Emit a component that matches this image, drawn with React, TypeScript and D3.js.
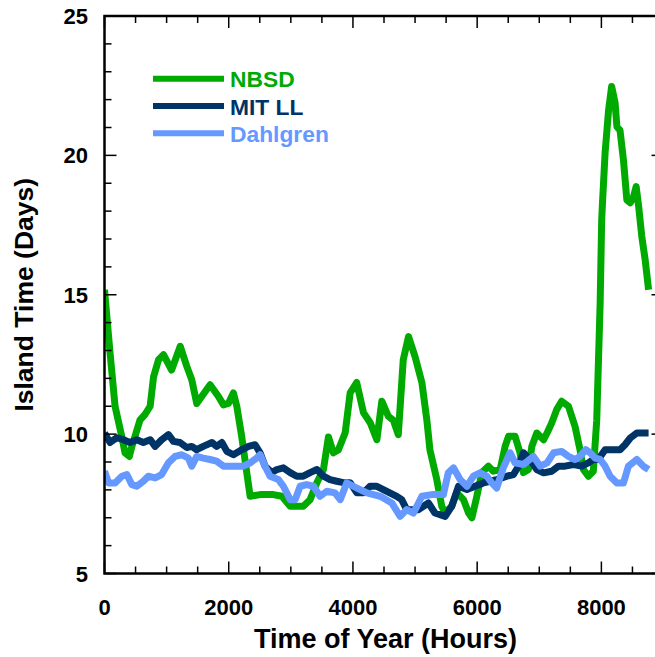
import React from "react";
import * as d3 from "d3";

const nbsdHours = [0, 90, 170, 280, 330, 400, 440, 570, 650, 735, 790, 870, 950, 1080, 1220, 1325, 1405, 1485, 1565, 1700, 1835, 1915, 1995, 2075, 2130, 2210, 2290, 2345, 2505, 2720, 2855, 2990, 3200, 3310, 3420, 3525, 3605, 3685, 3765, 3875, 3955, 4060, 4170, 4280, 4385, 4465, 4570, 4650, 4730, 4810, 4895, 5000, 5110, 5190, 5240, 5350, 5430, 5485, 5590, 5670, 5780, 5860, 5915, 5995, 6075, 6180, 6260, 6370, 6450, 6505, 6610, 6690, 6745, 6825, 6880, 6960, 7070, 7125, 7200, 7280, 7360, 7470, 7575, 7655, 7710, 7790, 7870, 7925, 7980, 8005, 8020, 8060, 8115, 8165, 8220, 8250, 8300, 8355, 8410, 8465, 8515, 8560, 8600, 8650, 8705, 8760];
const nbsdDays = [15.18, 12.9, 11.0, 9.9, 9.33, 9.2, 9.55, 10.5, 10.7, 11.0, 12.06, 12.67, 12.85, 12.3, 13.15, 12.43, 11.95, 11.1, 11.35, 11.77, 11.35, 11.05, 11.1, 11.48, 11.0, 9.9, 8.62, 7.77, 7.83, 7.83, 7.77, 7.41, 7.41, 7.65, 8.26, 8.73, 9.9, 9.33, 9.43, 10.05, 11.48, 11.85, 10.77, 10.4, 9.8, 11.18, 10.64, 10.5, 9.98, 12.67, 13.5, 12.78, 11.85, 10.5, 9.43, 8.37, 7.41, 7.18, 7.41, 7.9, 7.65, 7.18, 7.0, 7.77, 8.62, 8.85, 8.67, 8.73, 9.56, 9.92, 9.92, 9.33, 8.62, 8.73, 9.56, 10.04, 9.8, 10.04, 10.4, 10.88, 11.18, 11.0, 10.28, 9.45, 8.73, 8.49, 8.67, 10.5, 14.7, 17.7, 18.4, 20.1, 21.6, 22.47, 21.9, 21.03, 20.9, 19.84, 18.4, 18.3, 18.5, 18.88, 18.17, 17.1, 16.25, 15.18];

const mitHours = [0, 90, 200, 305, 410, 520, 625, 735, 815, 920, 1030, 1110, 1215, 1325, 1405, 1485, 1590, 1730, 1805, 1890, 1970, 2075, 2210, 2320, 2425, 2505, 2585, 2695, 2775, 2880, 2990, 3095, 3200, 3310, 3420, 3525, 3630, 3740, 3845, 3955, 4060, 4170, 4275, 4385, 4545, 4705, 4785, 4865, 5055, 5215, 5320, 5485, 5590, 5700, 5835, 5965, 6100, 6210, 6315, 6480, 6585, 6665, 6745, 6850, 6960, 7070, 7200, 7310, 7415, 7550, 7685, 7790, 7870, 7950, 8060, 8195, 8300, 8380, 8465, 8570, 8675, 8760];
const mitDays = [10.04, 9.7, 9.87, 9.8, 9.7, 9.8, 9.7, 9.8, 9.56, 9.8, 9.98, 9.74, 9.7, 9.52, 9.56, 9.44, 9.56, 9.7, 9.56, 9.7, 9.38, 9.26, 9.44, 9.56, 9.62, 9.33, 8.85, 8.62, 8.73, 8.79, 8.62, 8.49, 8.49, 8.62, 8.73, 8.49, 8.37, 8.31, 8.26, 8.26, 7.9, 7.9, 8.13, 8.13, 7.95, 7.77, 7.65, 7.29, 7.29, 7.53, 7.17, 7.05, 7.41, 8.13, 8.01, 8.13, 8.25, 8.31, 8.37, 8.49, 8.55, 8.85, 9.33, 9.09, 8.73, 8.61, 8.67, 8.85, 8.85, 8.91, 8.85, 8.97, 9.09, 9.09, 9.44, 9.44, 9.44, 9.62, 9.86, 10.04, 10.04, 10.04];

const dahlHours = [0, 65, 170, 280, 360, 440, 520, 625, 705, 815, 920, 1030, 1135, 1245, 1350, 1405, 1485, 1590, 1700, 1805, 1915, 2020, 2130, 2235, 2345, 2450, 2505, 2585, 2665, 2800, 2880, 2990, 3070, 3150, 3255, 3365, 3470, 3580, 3710, 3795, 3900, 4005, 4115, 4225, 4440, 4625, 4760, 4865, 4975, 5110, 5270, 5455, 5535, 5620, 5725, 5835, 5940, 6045, 6155, 6235, 6315, 6420, 6530, 6610, 6745, 6905, 7015, 7125, 7230, 7360, 7470, 7575, 7655, 7750, 7820, 7900, 7980, 8060, 8140, 8250, 8355, 8435, 8570, 8675, 8760];
const dahlDays = [8.67, 8.25, 8.25, 8.49, 8.55, 8.19, 8.13, 8.31, 8.49, 8.43, 8.55, 8.97, 9.2, 9.26, 9.14, 8.85, 9.2, 9.14, 9.09, 9.03, 8.85, 8.85, 8.85, 8.85, 8.97, 9.14, 9.26, 8.85, 8.49, 8.37, 8.13, 7.65, 7.65, 8.13, 8.19, 8.13, 7.77, 7.95, 7.89, 7.65, 8.25, 8.13, 8.01, 7.89, 7.77, 7.53, 7.05, 7.29, 7.17, 7.77, 7.83, 7.83, 8.61, 8.79, 8.37, 8.13, 8.49, 8.61, 8.49, 8.25, 8.07, 8.79, 9.33, 8.97, 8.91, 9.2, 8.85, 8.97, 9.33, 9.38, 9.2, 9.09, 9.2, 9.44, 9.33, 9.14, 9.09, 8.85, 8.49, 8.25, 8.25, 8.85, 9.09, 8.85, 8.73];

const seriesNames = ["NBSD", "MIT LL", "Dahlgren"];
const seriesColors = ["#00aa00", "#003366", "#6699ff"];
const xTickValues = [0, 2000, 4000, 6000, 8000];
const yTickValues = [5, 10, 15, 20, 25];

const W = 655;
const H = 657;
const M = { left: 104.5, top: 16, right: 663.5, bottom: 573.5 };

export default function App() {
  const x = d3.scaleLinear().domain([0, 9000]).range([M.left, M.right]);
  const y = d3.scaleLinear().domain([5, 25]).range([M.bottom, M.top]);
  const line = d3
    .line<[number, number]>()
    .x((d) => x(d[0]))
    .y((d) => y(d[1]));

  const data: [number, number][][] = [
    nbsdHours.map((h, i) => [h, nbsdDays[i]]),
    mitHours.map((h, i) => [h, mitDays[i]]),
    dahlHours.map((h, i) => [h, dahlDays[i]]),
  ];

  const xMinor = d3.range(0, 9001, 500);
  const yMinor = d3.range(5, 25.01, 1);
  const font = "'Liberation Sans', Arial, sans-serif";

  return (
    <svg
      width={W}
      height={H}
      style={{ position: "absolute", left: 0, top: 0, background: "#fff" }}
      fontFamily={font}
      fontWeight="bold"
    >
      <defs>
        <clipPath id="plotclip">
          <rect x={M.left} y={M.top} width={M.right - M.left} height={M.bottom - M.top} />
        </clipPath>
      </defs>
      <g clipPath="url(#plotclip)">
        {data.map((d, i) => (
          <path
            key={i}
            d={line(d) || ""}
            fill="none"
            stroke={seriesColors[i]}
            strokeWidth={7}
            strokeLinejoin="round"
          />
        ))}
      </g>
      <g stroke="#000" strokeWidth={1.5}>
        {xMinor.map((v) => {
          const major = v % 2000 === 0;
          const len = major ? 12 : 7;
          return (
            <g key={"x" + v}>
              <line x1={x(v)} x2={x(v)} y1={M.bottom} y2={M.bottom - len} />
              <line x1={x(v)} x2={x(v)} y1={M.top} y2={M.top + len} />
            </g>
          );
        })}
        {yMinor.map((v) => {
          const major = v % 5 === 0;
          const len = major ? 12 : 7;
          return (
            <g key={"y" + v}>
              <line x1={M.left} x2={M.left + len} y1={y(v)} y2={y(v)} />
              <line x1={M.right} x2={M.right - len} y1={y(v)} y2={y(v)} />
            </g>
          );
        })}
      </g>
      <rect
        x={M.left}
        y={M.top}
        width={M.right - M.left}
        height={M.bottom - M.top}
        fill="none"
        stroke="#000"
        strokeWidth={2.5}
      />
      {xTickValues.map((v) => (
        <text key={"xl" + v} x={x(v)} y={615} textAnchor="middle" fontSize={22}>
          {v}
        </text>
      ))}
      {yTickValues.map((v) => (
        <text key={"yl" + v} x={88} y={y(v) + 8} textAnchor="end" fontSize={22}>
          {v}
        </text>
      ))}
      <text x={385.5} y={648} textAnchor="middle" fontSize={27}>
        Time of Year (Hours)
      </text>
      <text
        transform={`translate(33, ${(M.top + M.bottom) / 2}) rotate(-90)`}
        textAnchor="middle"
        fontSize={26.5}
      >
        Island Time (Days)
      </text>
      {seriesNames.map((name, i) => {
        const ly = 78.7 + i * 27.3;
        return (
          <g key={name}>
            <line x1={153} x2={224} y1={ly} y2={ly} stroke={seriesColors[i]} strokeWidth={6} />
            <text x={230} y={ly + 8.5} fontSize={22.8} fill={seriesColors[i]}>
              {name}
            </text>
          </g>
        );
      })}
    </svg>
  );
}
